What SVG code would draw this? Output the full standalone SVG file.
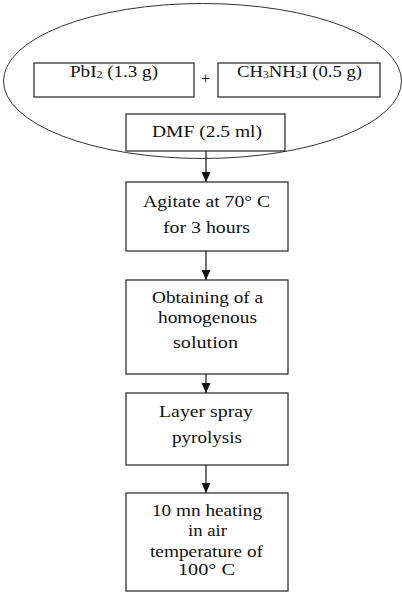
<svg xmlns="http://www.w3.org/2000/svg" width="402" height="594" viewBox="0 0 402 594">
<defs>
<style>
.box{fill:#fff;stroke:#222;stroke-width:1.2}
.t{font-family:"Liberation Serif","Times New Roman",serif;font-size:16px;fill:#111;text-anchor:middle}
.c{stroke:#111;stroke-width:1.2;fill:none}
</style>
<marker id="ah" viewBox="0 0 10 10" refX="10" refY="5" markerWidth="10" markerHeight="10" markerUnits="userSpaceOnUse" orient="auto">
<path d="M0,0.5 L10,5 L0,9.5 z" fill="#111"/>
</marker>
</defs>
<rect width="402" height="594" fill="#fff"/>
<g id="ellipse"><ellipse cx="202.5" cy="81" rx="199" ry="77.5" fill="none" stroke="#333" stroke-width="1"/></g>
<g id="pbi2"><rect class="box" x="34" y="63" width="160" height="34"/><text class="t" x="114" y="77" textLength="88" lengthAdjust="spacingAndGlyphs">PbI<tspan font-size="10" dy="1">2</tspan><tspan dy="-1"> (1.3 g)</tspan></text></g>
<g id="plus"><text class="t" x="205.5" y="84">+</text></g>
<g id="mai"><rect class="box" x="218" y="63" width="162" height="34"/><text class="t" x="299.5" y="77" textLength="125" lengthAdjust="spacingAndGlyphs">CH<tspan font-size="10" dy="1">3</tspan><tspan dy="-1">NH</tspan><tspan font-size="10" dy="1">3</tspan><tspan dy="-1">I (0.5 g)</tspan></text></g>
<g id="dmf"><rect class="box" x="126" y="114" width="159" height="37"/><text class="t" x="207" y="137" textLength="110" lengthAdjust="spacingAndGlyphs">DMF (2.5 ml)</text></g>
<g id="agitate"><rect class="box" x="126" y="182" width="162" height="69"/><text class="t" x="206.5" y="207" textLength="127" lengthAdjust="spacingAndGlyphs">Agitate at 70° C</text><text class="t" x="206.5" y="233" textLength="87" lengthAdjust="spacingAndGlyphs">for 3 hours</text></g>
<g id="obtain"><rect class="box" x="126" y="280" width="162" height="94"/><text class="t" x="207.5" y="303" textLength="111" lengthAdjust="spacingAndGlyphs">Obtaining of a</text><text class="t" x="207.5" y="323" textLength="99" lengthAdjust="spacingAndGlyphs">homogenous</text><text class="t" x="205.5" y="348" textLength="65" lengthAdjust="spacingAndGlyphs">solution</text></g>
<g id="layer"><rect class="box" x="126" y="393" width="162" height="72"/><text class="t" x="206" y="417" textLength="94" lengthAdjust="spacingAndGlyphs">Layer spray</text><text class="t" x="207" y="443" textLength="70" lengthAdjust="spacingAndGlyphs">pyrolysis</text></g>
<g id="heat"><rect class="box" x="126" y="493" width="162" height="98"/><text class="t" x="207" y="516" textLength="110" lengthAdjust="spacingAndGlyphs">10 mn heating</text><text class="t" x="207.5" y="536" textLength="39" lengthAdjust="spacingAndGlyphs">in air</text><text class="t" x="206.5" y="557" textLength="113" lengthAdjust="spacingAndGlyphs">temperature of</text><text class="t" x="206.5" y="575" textLength="57" lengthAdjust="spacingAndGlyphs">100° C</text></g>
<g id="connectors">
<line class="c" x1="206" y1="151" x2="206" y2="182" marker-end="url(#ah)"/>
<line class="c" x1="206" y1="251" x2="206" y2="280" marker-end="url(#ah)"/>
<line class="c" x1="206" y1="374" x2="206" y2="393" marker-end="url(#ah)"/>
<line class="c" x1="206" y1="465" x2="206" y2="493" marker-end="url(#ah)"/>
</g>
</svg>
